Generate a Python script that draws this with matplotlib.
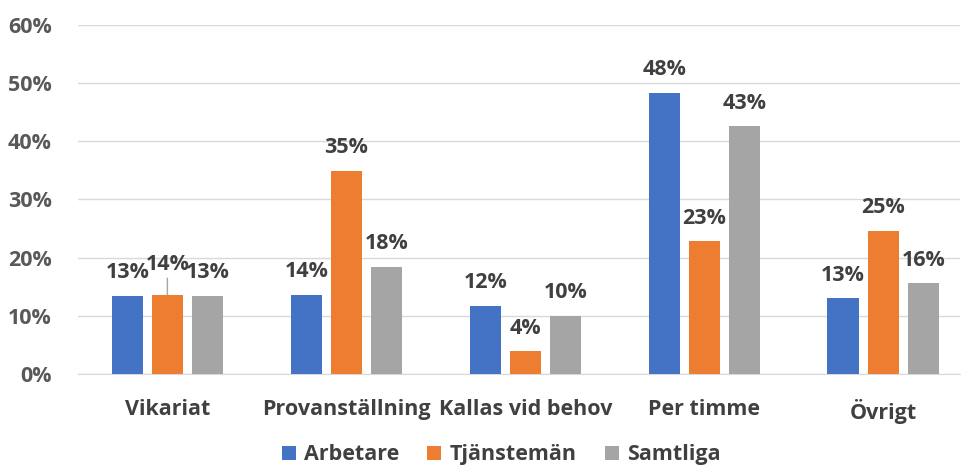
import matplotlib.pyplot as plt
import numpy as np

categories = ["Vikariat", "Provanställning", "Kallas vid behov", "Per timme", "Övrigt"]
series_names = ["Arbetare", "Tjänstemän", "Samtliga"]
arbetare = [13.4, 13.6, 11.7, 48.3, 13.0]
tjanstemen = [13.6, 34.9, 3.9, 22.8, 24.6]
samtliga = [13.4, 18.4, 10.0, 42.6, 15.6]
labels_arb = ["13%", "14%", "12%", "48%", "13%"]
labels_tja = ["14%", "35%", "4%", "23%", "25%"]
labels_sam = ["13%", "18%", "10%", "43%", "16%"]

colors = ["#4472C4", "#ED7D31", "#A5A5A5"]
text_col = "#404040"
tick_col = "#595959"
fs = 15.5

plt.rcParams['font.family'] = ['Open Sans', 'DejaVu Sans']
plt.rcParams['font.weight'] = 'bold'

fig = plt.figure(figsize=(9.62, 4.68), dpi=100)
ax = fig.add_axes([0.081, 0.201, 0.917, 0.746])

x = np.arange(len(categories))
width = 0.174
step = 0.224
data = [arbetare, tjanstemen, samtliga]
labels = [labels_arb, labels_tja, labels_sam]

for i, (vals, labs) in enumerate(zip(data, labels)):
    pos = x + (i - 1) * step
    ax.bar(pos, vals, width, color=colors[i], label=series_names[i], zorder=3)
    for j, (p, v, t) in enumerate(zip(pos, vals, labs)):
        if j == 0 and i == 1:
            # lifted label with leader line
            ax.annotate(t, xy=(p, v), xytext=(0, 14), textcoords="offset points",
                        ha="center", va="bottom", fontsize=fs, fontweight="bold",
                        color=text_col,
                        arrowprops=dict(arrowstyle="-", color="#a6a6a6", lw=1,
                                        shrinkA=0, shrinkB=0))
            continue
        ax.annotate(t, xy=(p, v), xytext=(0, 9), textcoords="offset points",
                    ha="center", va="bottom", fontsize=fs, fontweight="bold",
                    color=text_col)

ax.set_xlim(-0.5, len(categories) - 0.57)
ax.set_ylim(0, 60)
ax.set_yticks(range(0, 61, 10))
ax.set_yticklabels([f"{v}%" for v in range(0, 61, 10)])
ax.set_xticks(x)
ax.set_xticklabels(categories)
ax.tick_params(axis="y", length=0, pad=19, labelsize=fs, labelcolor=tick_col)
ax.tick_params(axis="x", length=0, pad=18, labelsize=fs, labelcolor=text_col)
for lab in ax.get_xticklabels() + ax.get_yticklabels():
    lab.set_fontweight("bold")

ax.grid(axis="y", color="#d9d9d9", lw=1, zorder=0)
for s in ["top", "right", "left"]:
    ax.spines[s].set_visible(False)
ax.spines["bottom"].set_color("#d9d9d9")

leg = ax.legend(loc="center", bbox_to_anchor=(0.48, -0.232), ncol=3,
                frameon=False, fontsize=fs, handlelength=0.65, handleheight=0.65,
                columnspacing=1.3, handletextpad=0.4, borderaxespad=0, borderpad=0)
for t in leg.get_texts():
    t.set_color(text_col)
    t.set_fontweight("bold")

fig.savefig("out.png", dpi=100)
